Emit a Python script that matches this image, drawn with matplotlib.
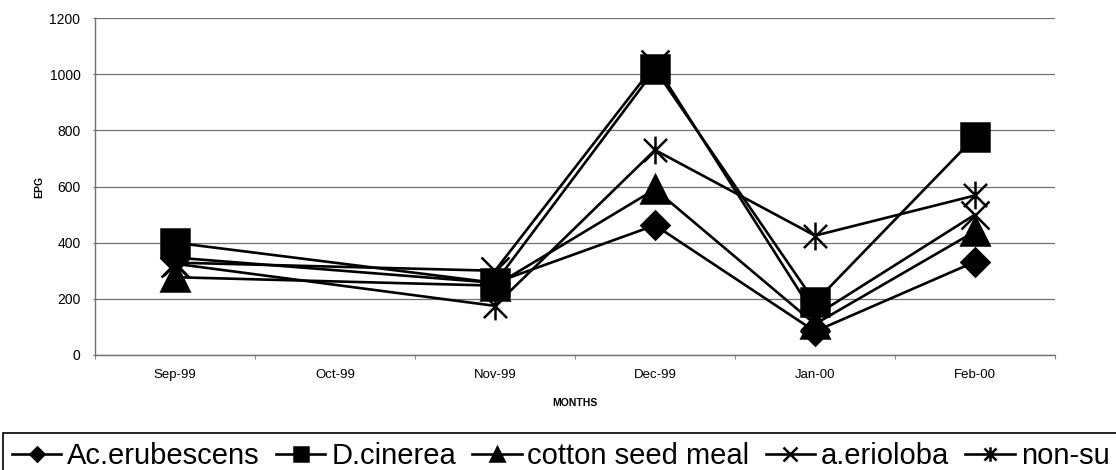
import matplotlib
matplotlib.use('Agg')
import matplotlib.pyplot as plt
import numpy as np
from matplotlib.path import Path

plt.rcParams['font.family'] = ['Liberation Sans', 'DejaVu Sans']

# Data
months = ['Sep-99', 'Oct-99', 'Nov-99', 'Dec-99', 'Jan-00', 'Feb-00']
nan = np.nan
ac_erubescens = [347, nan, 257, 462, 84, 332]
d_cinerea = [400, nan, 257, 1017, 188, 776]
cotton_seed = [277, nan, 247, 590, 110, 440]
a_erioloba = [329, nan, 300, 1035, 140, 500]
non_supp = [325, nan, 175, 730, 425, 568]

labels = ['Ac.erubescens', 'D.cinerea', 'cotton seed meal', 'a.erioloba', 'non-su']

# asterisk marker: an X with a vertical bar
star = Path([(-1, -1), (1, 1), (-1, 1), (1, -1), (0, -1.2), (0, 1.2)],
            [Path.MOVETO, Path.LINETO, Path.MOVETO, Path.LINETO, Path.MOVETO, Path.LINETO])

series = [ac_erubescens, d_cinerea, cotton_seed, a_erioloba, non_supp]
markers = ['D', 's', '^', 'x', star]
msizes = [14.5, 20, 20, 20, 20]
zorders = [3, 6, 4, 3, 5]

fig = plt.figure(figsize=(11.16, 4.70), dpi=100)
ax = fig.add_axes([95/1116, 1 - 355/470, 960/1116, 337/470])

x = np.arange(len(months))
handles = []
for vals, lab, m, ms, z in zip(series, labels, markers, msizes, zorders):
    v = np.array(vals, dtype=float)
    ok = ~np.isnan(v)
    ln, = ax.plot(x[ok], v[ok], color='black', lw=1.9, marker=m, ms=ms,
                  mfc='black', mec='black', mew=1.8, label=lab, zorder=z)
    handles.append(ln)

ax.set_xlim(-0.5, 5.5)
ax.set_ylim(0, 1200)
ax.set_yticks(np.arange(0, 1201, 200))
ax.yaxis.grid(True, color='#707070', lw=0.9)
ax.set_axisbelow(True)

ax.set_xticks(x)
ax.set_xticklabels(months)
ax.set_xticks(np.arange(-0.5, 6, 1), minor=True)
ax.tick_params(axis='x', which='major', length=0, labelsize=9.5, pad=10)
ax.tick_params(axis='x', which='minor', length=3, color='#707070', direction='out')
ax.tick_params(axis='y', length=3, direction='inout', color='#707070', labelsize=10, pad=9)

for s in ['top', 'right']:
    ax.spines[s].set_visible(False)
for s in ['left', 'bottom']:
    ax.spines[s].set_color('#707070')
    ax.spines[s].set_linewidth(1)

ax.set_ylabel('EPG', fontsize=7.5, fontweight='bold', labelpad=4)
ax.set_xlabel('MONTHS', fontsize=7.5, fontweight='bold', labelpad=12)

# legend box runs past the right edge of the figure, as in the original
leg = fig.legend(handles, labels, loc='upper left', bbox_to_anchor=(3/1116, 1 - 433/470),
                 ncol=5, fontsize=21, markerscale=0.52, handlelength=1.7,
                 handletextpad=0.2, columnspacing=0.55, borderaxespad=0,
                 borderpad=0.3, fancybox=False, edgecolor='black', framealpha=1)
leg.get_frame().set_linewidth(1.2)

fig.savefig('out.png', dpi=100)
